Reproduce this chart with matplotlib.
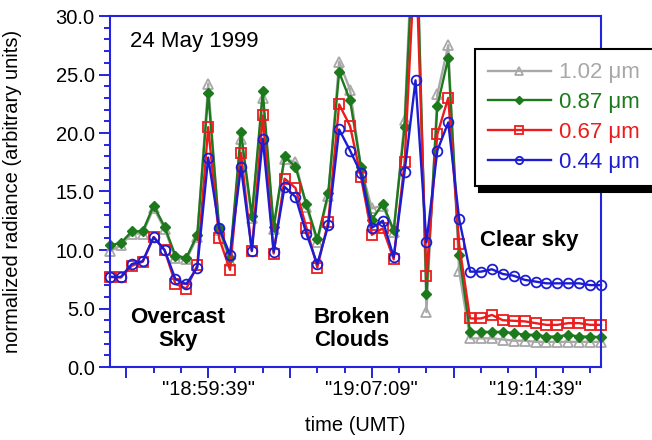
#!/usr/bin/env python3
"""Spectral radiance time series, 24 May 1999 (overcast / broken clouds / clear sky)."""

import matplotlib
matplotlib.use('Agg')
import matplotlib.pyplot as plt
import matplotlib.dates as mdates
from matplotlib.ticker import MultipleLocator, FormatStrFormatter, FixedLocator
from matplotlib.transforms import Bbox, TransformedBbox
import pandas as pd

plt.rcParams["font.family"] = ["Liberation Sans", "DejaVu Sans"]

# sample times: one reading every 30 s
times = pd.date_range("1999-05-24 18:55:09", periods=46, freq="30s")

r102 = [9.9, 10.4, 11.4, 11.4, 13.6, 11.8, 9.3, 9.2, 11.1, 24.2,
        11.7, 9.1, 19.5, 12.7, 23.0, 11.8, 17.8, 17.5, 13.7, 10.7,
        14.6, 26.1, 23.7, 17.0, 13.55, 13.8, 11.5, 21.1, 42.0, 4.7,
        23.3, 27.5, 8.2, 2.45, 2.45, 2.45, 2.35, 2.25, 2.25, 2.15,
        2.15, 2.15, 2.15, 2.15, 2.15, 2.15]
r087 = [10.4, 10.6, 11.6, 11.6, 13.8, 12.0, 9.5, 9.35, 11.3, 23.4,
        11.9, 9.3, 20.1, 12.9, 23.55, 12.0, 18.0, 17.1, 13.9, 10.9,
        14.85, 25.2, 22.8, 17.1, 12.6, 13.95, 11.7, 20.5, 40.0, 6.2,
        22.3, 26.4, 9.6, 3.0, 3.0, 3.0, 3.0, 2.9, 2.75, 2.75,
        2.6, 2.6, 2.75, 2.6, 2.6, 2.55]
r067 = [7.7, 7.65, 8.65, 9.0, 11.1, 10.0, 7.1, 6.7, 8.7, 20.5,
        11.0, 8.3, 18.3, 9.9, 21.5, 9.7, 16.1, 15.3, 11.9, 8.5,
        12.4, 22.45, 20.6, 16.25, 11.3, 11.85, 9.2, 17.5, 36.0, 7.8,
        19.9, 23.0, 10.5, 4.15, 4.15, 4.45, 4.0, 3.95, 3.9, 3.75,
        3.6, 3.6, 3.75, 3.75, 3.6, 3.6]
r044 = [7.7, 7.7, 8.8, 9.05, 11.1, 10.0, 7.5, 7.1, 8.5, 17.9,
        11.9, 9.6, 17.1, 9.95, 19.5, 9.85, 15.4, 14.55, 11.4, 8.8,
        12.1, 20.3, 18.5, 16.55, 11.9, 12.5, 9.4, 16.7, 24.5, 10.65,
        18.5, 20.9, 12.65, 8.15, 8.15, 8.35, 7.95, 7.8, 7.45, 7.3,
        7.15, 7.15, 7.15, 7.15, 7.0, 7.0]

series_labels = ["1.02 \u03bcm", "0.87 \u03bcm", "0.67 \u03bcm", "0.44 \u03bcm"]

long_ticks = ["18:55:54", "18:59:39", "19:03:24", "19:07:09", "19:10:54", "19:14:39"]
long_tick_labels = ["", '"18:59:39"', "", '"19:07:09"', "", '"19:14:39"']
short_ticks = pd.date_range("1999-05-24 18:57:09", "1999-05-24 19:17:39", freq="75s")

BLUE_AX = "#2424e0"
styles = [
    dict(color="#a8a8a8", marker="^", ms=7, mfc="none", mew=1.3),
    dict(color="#1c7a1c", marker="D", ms=5.5, mfc="#1c7a1c", mew=1.0),
    dict(color="#ec1c1c", marker="s", ms=7, mfc="none", mew=1.3),
    dict(color="#1c1cd2", marker="o", ms=7, mfc="none", mew=1.3),
]

fig = plt.figure(figsize=(6.52, 4.40), dpi=100)
ax = fig.add_axes([110 / 652, 1 - 367 / 440, 491 / 652, 351 / 440])

# clip at the top of the axes but let edge markers sit over the side spines
clip = TransformedBbox(Bbox([[-0.03, -0.05], [1.03, 1.0]]), ax.transAxes)

handles = []
for vals, lab, st in zip([r102, r087, r067, r044], series_labels, styles):
    ln, = ax.plot(times, vals, lw=1.7, label=lab, **st)
    ln.set_clip_box(clip)
    handles.append(ln)

ax.set_ylim(0, 30)
ax.set_xlim(times[0], times[-1])

ax.yaxis.set_major_locator(MultipleLocator(5))
ax.yaxis.set_minor_locator(MultipleLocator(1))
ax.yaxis.set_major_formatter(FormatStrFormatter("%.1f"))

major_x = [mdates.date2num(pd.Timestamp("1999-05-24 " + t)) for t in long_ticks]
ax.xaxis.set_major_locator(FixedLocator(major_x))
ax.set_xticklabels(long_tick_labels)
ax.xaxis.set_minor_locator(FixedLocator([mdates.date2num(t) for t in short_ticks
                                         if t.strftime("%H:%M:%S") not in long_ticks]))

for s in ax.spines.values():
    s.set_color(BLUE_AX)
    s.set_linewidth(1.5)
ax.tick_params(which="major", direction="out", length=8, width=1.4, color=BLUE_AX,
               labelsize=14.5, pad=3)
ax.tick_params(axis="x", which="major", pad=1.5)
ax.tick_params(which="minor", direction="out", length=4, width=1.4, color=BLUE_AX)
ax.tick_params(top=False, right=False, which="both")

ax.set_ylabel("normalized radiance (arbitrary units)", fontsize=14.5)
ax.yaxis.set_label_coords(-0.18, 0.5)
ax.set_xlabel("time (UMT)", fontsize=14.5)
ax.xaxis.set_label_coords(0.5, -0.14)

ax.text(0.041, 0.926, "24 May 1999", transform=ax.transAxes, fontsize=16,
        ha="left", va="center")
ax.text(0.138, 0.107, "Overcast\nSky", transform=ax.transAxes, fontsize=16,
        fontweight="bold", ha="center", va="center", linespacing=1.12)
ax.text(0.493, 0.107, "Broken\nClouds", transform=ax.transAxes, fontsize=16,
        fontweight="bold", ha="center", va="center", linespacing=1.12)
ax.text(0.853, 0.359, "Clear sky", transform=ax.transAxes, fontsize=16,
        fontweight="bold", ha="center", va="center")

leg = fig.legend(handles=handles, loc="upper left",
                 bbox_to_anchor=(475 / 652, 1 - 49 / 440), borderaxespad=0,
                 fontsize=16, labelcolor="linecolor", markerscale=0.75,
                 handlelength=2.8, handletextpad=0.4, labelspacing=0.4,
                 borderpad=0.6, fancybox=False, framealpha=1,
                 shadow={"ox": 3, "oy": -4, "facecolor": "black",
                         "edgecolor": "black", "alpha": 1})
leg.get_frame().set_edgecolor("black")
leg.get_frame().set_linewidth(1.5)

fig.savefig("out.png", dpi=100)
